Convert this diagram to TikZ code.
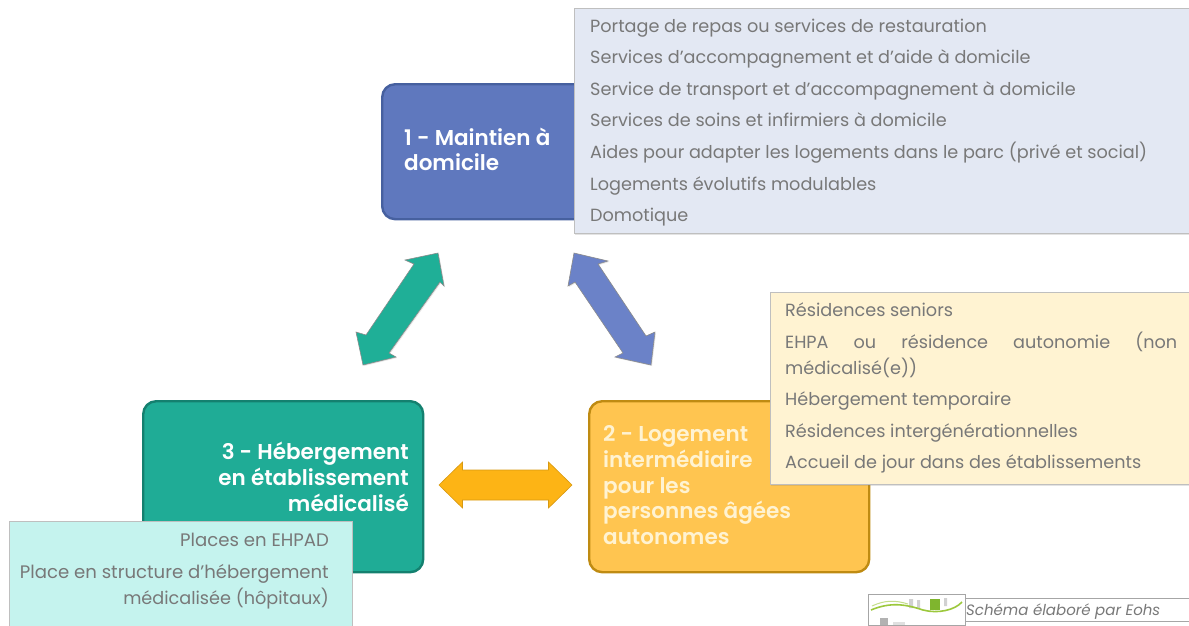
\documentclass[tikz,border=0pt]{standalone}
\usepackage{fontspec}
\setmainfont{Poppins}[BoldFont={Poppins SemiBold}]
\usetikzlibrary{shadows}
\definecolor{bluefill}{HTML}{5F78BE}
\definecolor{blueedge}{HTML}{46609F}
\definecolor{bluepanel}{HTML}{E3E8F3}
\definecolor{bluearrow}{HTML}{6B82C8}
\definecolor{tealfill}{HTML}{1FAC96}
\definecolor{tealedge}{HTML}{14806F}
\definecolor{tealpanel}{HTML}{C5F3EE}
\definecolor{tealarrow}{HTML}{1FAF97}
\definecolor{yellowfill}{HTML}{FFC550}
\definecolor{yellowedge}{HTML}{BF8B12}
\definecolor{yellowpanel}{HTML}{FFF3D2}
\definecolor{orangearrow}{HTML}{FDB415}
\definecolor{paneltext}{HTML}{787878}
\definecolor{limeswoosh}{HTML}{9CC83C}
\definecolor{limeblock}{HTML}{7FB52E}
\tikzset{
  mainbox/.style={rounded corners=13pt,line width=2.4pt,inner sep=0pt,anchor=north west},
  panelbox/.style={draw=black!25,line width=.7pt,inner sep=0pt,anchor=north west,
    drop shadow={opacity=.22,shadow xshift=1pt,shadow yshift=-1.5pt}},
  ptext/.style={text=paneltext,font=\fontsize{17.65}{20}\selectfont,inner sep=0pt,anchor=base west},
  ptextr/.style={ptext,anchor=base east},
  ptextrw/.style={ptextr,font=\fontsize{18.1}{20}\selectfont},
  titletext/.style={text=white,font=\fontsize{21.5}{24}\selectfont\bfseries,inner sep=0pt,anchor=base west},
  titletextr/.style={titletext,anchor=base east},
  softtitle/.style={titletext,text=yellowpanel},
  blockarrow/.style={line width=.6pt,draw=black!45,
    drop shadow={opacity=.2,shadow xshift=1pt,shadow yshift=-1pt}},
}
\begin{document}
\begin{tikzpicture}[x=1pt,y=-1pt]
\useasboundingbox (0,0) rectangle (1189,625);
% main boxes
\node[mainbox,draw=blueedge,fill=bluefill,minimum width=280pt,minimum height=135pt] (box1) at (381,83) {};
\node[mainbox,draw=yellowedge,fill=yellowfill,minimum width=280pt,minimum height=171pt] (box2) at (588,400) {};
\node[mainbox,draw=tealedge,fill=tealfill,minimum width=280pt,minimum height=171pt] (box3) at (142,400) {};
% titles of boxes
\node[titletext] (t1a) at (404,145) {1 - Maintien à};
\node[titletext] (t1b) at (404,170) {domicile};
\node[softtitle] (t2a) at (603,441) {2 - Logement};
\node[softtitle] (t2b) at (603,467) {intermédiaire};
\node[softtitle] (t2c) at (603,493) {pour les};
\node[softtitle] (t2d) at (603,518) {personnes âgées};
\node[softtitle] (t2e) at (603,544) {autonomes};
\node[titletextr] (t3a) at (409,459) {3 - Hébergement};
\node[titletextr] (t3b) at (409,485) {en établissement};
\node[titletextr] (t3c) at (409,511) {médicalisé};
% panels
\node[panelbox,fill=bluepanel,minimum width=620pt,minimum height=225pt] (p1) at (574,8) {};
\node[panelbox,fill=yellowpanel,minimum width=424pt,minimum height=192pt] (p2) at (770,292) {};
\node[panelbox,fill=tealpanel,minimum width=343pt,minimum height=110pt] (p3) at (9,521) {};
% panel 1 text
\node[ptext] (a1) at (590,32) {Portage de repas ou services de restauration};
\node[ptext] (a2) at (590,63) {Services d’accompagnement et d’aide à domicile};
\node[ptext] (a3) at (590,95) {Service de transport et d’accompagnement à domicile};
\node[ptext] (a4) at (590,126) {Services de soins et infirmiers à domicile};
\node[ptext] (a5) at (590,158) {Aides pour adapter les logements dans le parc (privé et social)};
\node[ptext] (a6) at (590,190) {Logements évolutifs modulables};
\node[ptext] (a7) at (590,221) {Domotique};
% panel 2 text
\node[ptext] (b1) at (785,316) {Résidences seniors};
\node[ptext] (b2) at (785,348) {\hbox to 392pt{EHPA\hfill ou\hfill résidence\hfill autonomie\hfill (non}};
\node[ptext] (b3) at (785,374) {médicalisé(e))};
\node[ptext] (b4) at (785,405) {Hébergement temporaire};
\node[ptext] (b5) at (785,437) {Résidences intergénérationnelles};
\node[ptext] (b6) at (785,468) {Accueil de jour dans des établissements};
% panel 3 text
\node[ptextrw] (c1) at (329,546) {Places en EHPAD};
\node[ptextrw] (c2) at (329,578) {Place en structure d’hébergement};
\node[ptextr] (c3) at (329,604) {médicalisée (hôpitaux)};
% block arrows
\draw[blockarrow,fill=tealarrow] (438,253) -- (405,260) -- (414,264) -- (366,335) -- (356,332) -- (363,365) -- (396,357) -- (389,353) -- (440,282) -- (444,286) -- cycle;
\draw[blockarrow,fill=bluearrow] (574,253) -- (608,261) -- (598,264) -- (646,336) -- (655,332) -- (651,365) -- (615,357) -- (623,353) -- (575,282) -- (568,286) -- cycle;
\draw[line width=.6pt,draw=orangearrow!85!black,fill=orangearrow] (439,485) -- (462.5,462) -- (462.5,470) -- (548.5,470) -- (548.5,462) -- (572,485) -- (548.5,508) -- (548.5,500) -- (462.5,500) -- (462.5,508) -- cycle;
% footer
\node[draw=black!35,line width=.7pt,fill=white,anchor=north west,inner sep=0pt,minimum width=224pt,minimum height=23pt] (cap) at (965,598) {};
\node[text=paneltext,font=\fontsize{15}{18}\selectfont\itshape,inner sep=0pt,anchor=base west] (capt) at (966,615) {Schéma élaboré par Eohs};
\node[draw=black!35,line width=.7pt,fill=white,anchor=north west,inner sep=0pt,minimum width=97pt,minimum height=31pt] (logo) at (868,594) {};
\fill[black!18] (909,599) rectangle (913,608) (917,600) rectangle (920,608) (944,598) rectangle (947,606);
\fill[limeblock] (930,599) rectangle (940,610);
\draw[limeswoosh,line width=1.6pt] (871,610) .. controls (890,602) and (905,604) .. (923,610) .. controls (938,614) and (955,610) .. (962,602);
\draw[limeswoosh!60,line width=1pt] (872,606) .. controls (885,600) and (895,600) .. (908,604);
\fill[black!30] (880,618) rectangle (888,625);
\fill[black!12] (893,622) rectangle (905,625);
\end{tikzpicture}
\end{document}
